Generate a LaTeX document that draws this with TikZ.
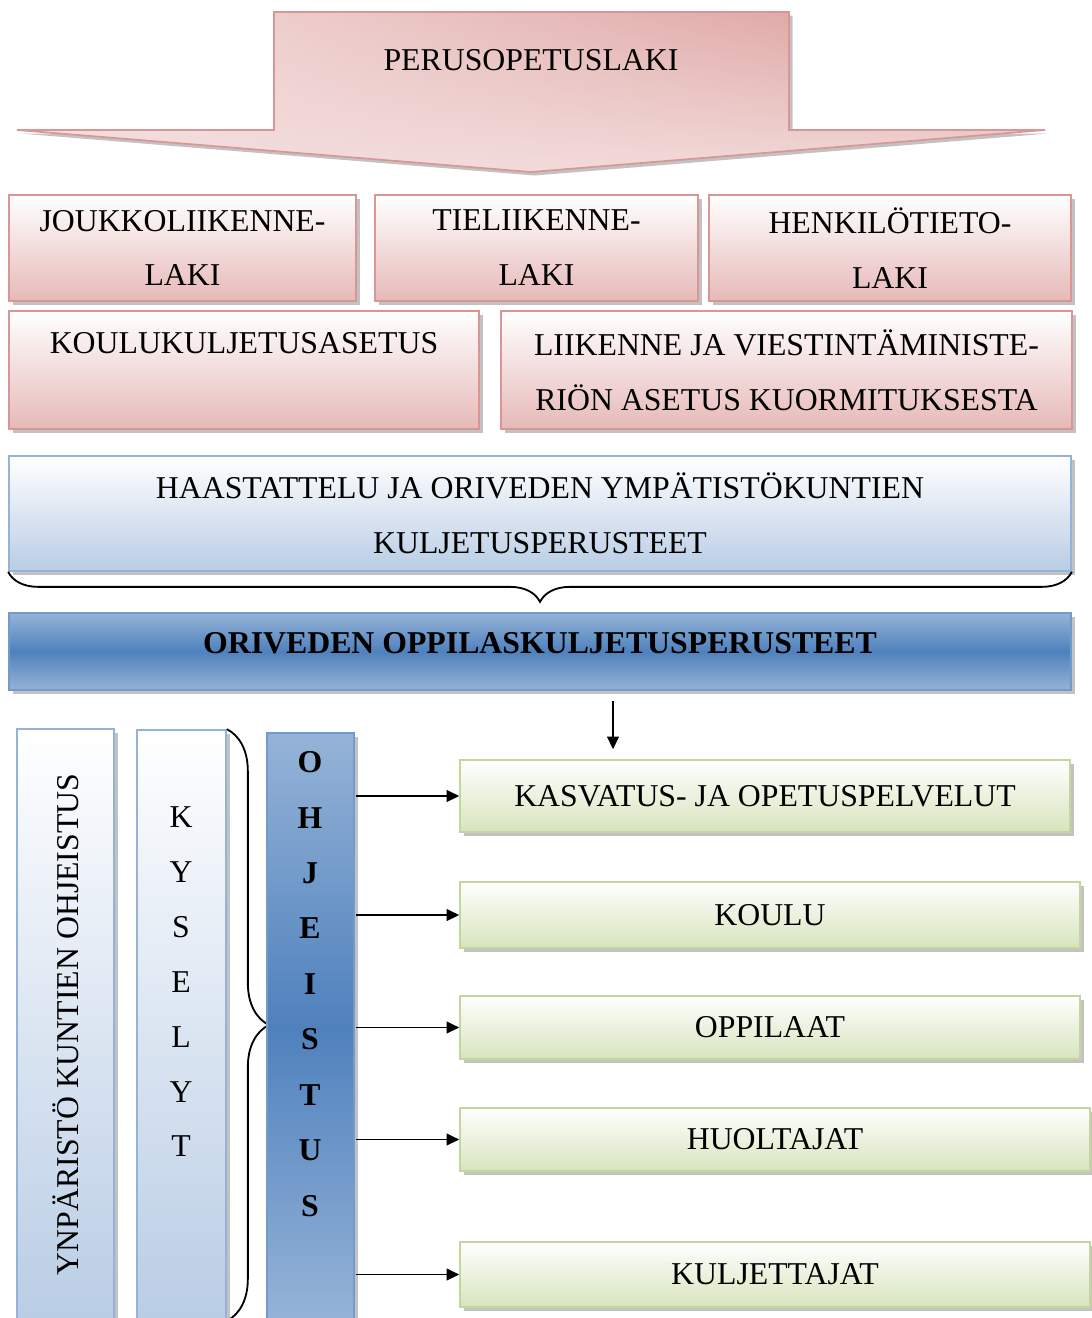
\documentclass[tikz,border=0pt]{standalone}
\usepackage{fontspec}
\setmainfont{Liberation Serif}
\usetikzlibrary{positioning}
\usetikzlibrary{calc}
\usetikzlibrary{fit,shadows,shadings,decorations.pathreplacing,arrows.meta}

\definecolor{pinkline}{HTML}{D99694}
\definecolor{pinklow}{HTML}{E6B9B8}
\definecolor{pinkdark}{HTML}{DA9896}
\definecolor{pinklight}{HTML}{F3DFDE}
\definecolor{blueline}{HTML}{95B3D7}
\definecolor{bluelow}{HTML}{B9CDE5}
\definecolor{bluemid}{HTML}{4F81BD}
\definecolor{greenline}{HTML}{C3D69B}
\definecolor{greenlow}{HTML}{D7E4BD}

\begin{document}
\begin{tikzpicture}[x=0.025cm, y=-0.025cm,
	boxshadow/.style={drop shadow={shadow xshift=2.5pt, shadow yshift=-2.5pt, fill=black!40, opacity=.6}},
	basebox/.style={inner sep=0pt, line width=1.2pt, boxshadow},
	pinkbox/.style={basebox, draw=pinkline, top color=white, bottom color=pinklow},
	bluebox/.style={basebox, draw=blueline, top color=white, bottom color=bluelow},
	darkbox/.style={basebox, draw=bluemid!80, top color=blueline, bottom color=blueline, middle color=bluemid},
	greenbox/.style={basebox, draw=greenline, top color=white, bottom color=greenlow},
	stack/.style={align=center, font=\fontsize{22.6}{39}\selectfont},
	txt/.style={label={[stack]center:#1}},
	arr/.style={line width=1.1pt, -{Triangle[length=9pt, width=8.5pt]}},
	curly/.style={line width=1.3pt, decorate}]
	\useasboundingbox (0,0) rectangle (1092,1318);
	% arrow on top
	\filldraw[draw=pinkline, line width=1.2pt, upper left=pinklight, lower left=pinklight, upper right=pinkdark, lower right=pinklight!90!pinkdark, boxshadow]
		(274,12) -- (789,12) -- (789,130) -- (1045,130) -- (531,172) -- (17,130) -- (274,130) -- cycle;
	\node[stack] (pol) at (531,60) {PERUSOPETUSLAKI};
	% laws
	\node[pinkbox, fit={(9,195) (356,301)}, txt={JOUKKOLIIKENNE-\\LAKI}] (jlaki) {};
	\node[pinkbox, fit={(375,195) (698,301)}, txt={TIELIIKENNE-\\LAKI}] (tlaki) {};
	\node[pinkbox, fit={(709,195) (1071,301)}, txt={HENKILÖTIETO-\\LAKI}] (hlaki) {};
	\node[pinkbox, fit={(9,311) (479,429)}, txt={KOULUKULJETUSASETUS\\\mbox{}}] (kka) {};
	\node[pinkbox, fit={(501,311) (1072,429)}, txt={LIIKENNE JA VIESTINTÄMINISTE-\\RIÖN ASETUS KUORMITUKSESTA}] (lva) {};
	% interview and result
	\node[bluebox, fit={(9,456) (1071,571)}, txt={HAASTATTELU JA ORIVEDEN YMPÄTISTÖKUNTIEN\\KULJETUSPERUSTEET}] (haas) {};
	\draw[curly, decoration={brace, amplitude=0.75cm}] (haas.south east) -- (haas.south west);
	\node[darkbox, fit={(9,613) (1071,690)}] (orp) {};
	\node[stack, font=\fontsize{22.6}{39}\selectfont\bfseries] (orptxt) at (540,643) {ORIVEDEN OPPILASKULJETUSPERUSTEET};
	% left columns
	\node[bluebox, fit={(17,729) (114,1320)}] (ymp) {};
	\node[stack, rotate=90] (ymptxt) at (ymp.center) {YNPÄRISTÖ KUNTIEN OHJEISTUS};
	\node[bluebox, fit={(137,730) (226,1320)}] (kys) {};
	\node[stack] (kystxt) at (181,982) {K\\Y\\S\\E\\L\\Y\\T};
	\draw[curly, decoration={brace, amplitude=1.05cm}] (kys.north east) -- (kys.south east);
	\node[darkbox, fit={(267,733) (354,1320)}] (ohj) {};
	\node[stack, font=\fontsize{22.6}{39.4}\selectfont\bfseries] (ohjtxt) at (310,984) {O\\H\\J\\E\\I\\S\\T\\U\\S};
	% targets
	\node[greenbox, fit={(460,760) (1070,832)}, txt={KASVATUS- JA OPETUSPELVELUT}] (kas) {};
	\node[greenbox, fit={(460,882) (1080,948)}, txt={KOULU}] (koulu) {};
	\node[greenbox, fit={(460,996) (1080,1059)}, txt={OPPILAAT}] (opp) {};
	\node[greenbox, fit={(460,1108) (1090,1171)}, txt={HUOLTAJAT}] (huol) {};
	\node[greenbox, fit={(460,1242) (1090,1307)}, txt={KULJETTAJAT}] (kulj) {};
	\draw[arr] ($(orp.south)+(73,10)$) -- ($(kas.north)+(-152,-10)$);
	\foreach \t in {kas,koulu,opp,huol,kulj}
		\draw[arr] ([xshift=1pt]ohj.east |- \t.west) -- (\t.west);
\end{tikzpicture}
\end{document}
